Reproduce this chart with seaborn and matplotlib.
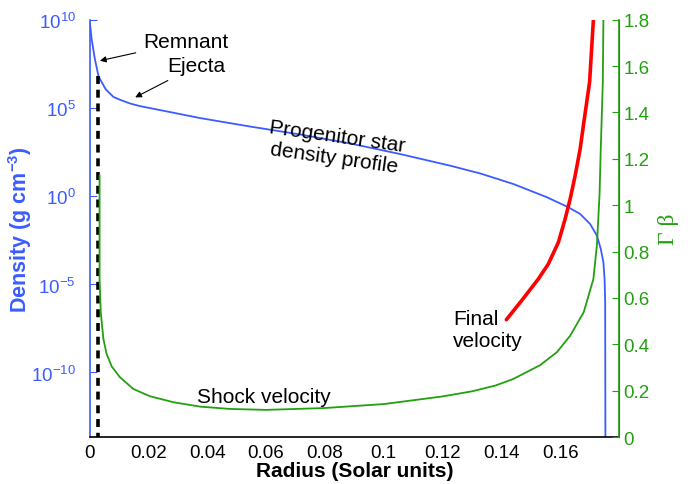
import numpy as np
import pandas as pd
import matplotlib
matplotlib.use("Agg")
import matplotlib.pyplot as plt
import seaborn as sns

# progenitor density profile (radius in solar units, log10 rho)
dens_r = [0.0, 0.0007, 0.0018, 0.0030, 0.0035, 0.0055, 0.0081, 0.0105, 0.0137,
          0.0171, 0.0262, 0.0376, 0.0546, 0.0716, 0.0886, 0.1056, 0.1226, 0.1328,
          0.1441, 0.1555, 0.1628, 0.1668, 0.1702, 0.1725, 0.1738, 0.1747, 0.1751,
          0.1753, 0.1754]
dens_log = [10.0, 8.9, 7.77, 6.82, 6.64, 6.05, 5.62, 5.45, 5.25,
            5.10, 4.80, 4.42, 3.94, 3.49, 2.98, 2.38, 1.72, 1.28,
            0.68, -0.07, -0.64, -1.02, -1.59, -2.25, -3.0, -3.76, -4.71,
            -6.0, -16.0]

# shock velocity (Gamma beta)
shock_r = [0.0034, 0.0034, 0.0038, 0.0047, 0.0058, 0.0075, 0.0103, 0.0149, 0.0205,
           0.0285, 0.0376, 0.0478, 0.06, 0.08, 0.1, 0.12, 0.13, 0.138, 0.144,
           0.1532, 0.1589, 0.1634, 0.168, 0.1713, 0.1725, 0.1734, 0.1738,
           0.1745, 0.1747]
shock_gb = [1.13, 0.68, 0.538, 0.423, 0.358, 0.305, 0.258, 0.207, 0.176,
            0.150, 0.131, 0.121, 0.117, 0.125, 0.142, 0.175, 0.197, 0.222, 0.25,
            0.31, 0.366, 0.437, 0.538, 0.682, 0.83, 1.05, 1.243,
            1.531, 1.8]

# final velocity (Gamma beta)
final_r = [0.1417, 0.147, 0.1526, 0.156, 0.1594, 0.1617, 0.1634, 0.1651, 0.1668,
           0.1679, 0.17, 0.1713]
final_gb = [0.506, 0.59, 0.682, 0.747, 0.84, 0.941, 1.027, 1.128, 1.243,
            1.344, 1.531, 1.8]

# remnant / ejecta boundary
cut_r = 0.0030
cut_log = 6.82

BLUE = "#3c5cff"
GREEN = "#22a010"
RED = "#ff0000"

sns.set_style("white")
plt.rcParams["font.family"] = ["Liberation Sans", "DejaVu Sans"]
plt.rcParams["text.color"] = "black"
plt.rcParams["mathtext.fontset"] = "custom"
plt.rcParams["mathtext.rm"] = "Liberation Sans"
plt.rcParams["mathtext.bf"] = "Liberation Sans:bold"

fig = plt.figure(figsize=(6.88, 4.85), dpi=100)
ax = fig.add_axes([0.1302, 0.0969, 0.7695, 0.8604])
ax2 = ax.twinx()

dens = pd.DataFrame({"r": dens_r, "rho": np.power(10.0, dens_log)})
sns.lineplot(data=dens, x="r", y="rho", ax=ax, color=BLUE, lw=1.3,
             estimator=None, sort=False)
ax.plot([cut_r, cut_r], [10 ** cut_log, 1e-16], color="black", lw=2.6,
        dashes=(2.2, 1.6))
ax.set_yscale("log")
ax.set_ylim(10 ** -13.67, 1e10)
ax.set_xlim(0, 0.18)

shock = pd.DataFrame({"r": shock_r, "gb": shock_gb})
final = pd.DataFrame({"r": final_r, "gb": final_gb})
sns.lineplot(data=shock, x="r", y="gb", ax=ax2, color=GREEN, lw=1.3,
             estimator=None, sort=False)
sns.lineplot(data=final, x="r", y="gb", ax=ax2, color=RED, lw=2.6,
             estimator=None, sort=False)
ax2.set_ylim(0, 1.8)
ax2.set_xlim(0, 0.18)

# axes styling
ax.set_yticks([1e-10, 1e-5, 1e0, 1e5, 1e10])
ax.set_yticklabels(["$10^{-10}$", "$10^{-5}$", "$10^{0}$", "$10^{5}$", "$10^{10}$"])
ax.minorticks_off()
ax.set_xticks([0, 0.02, 0.04, 0.06, 0.08, 0.1, 0.12, 0.14, 0.16])
ax.set_xticklabels(["0", "0.02", "0.04", "0.06", "0.08", "0.1", "0.12", "0.14", "0.16"])
ax.tick_params(axis="x", direction="in", length=5, colors="black", labelsize=13.5, pad=5)
ax.tick_params(axis="y", direction="in", length=5, colors=BLUE, labelsize=13.5, pad=10)
ax2.set_yticks(np.arange(0, 1.81, 0.2))
ax2.set_yticklabels(["0", "0.2", "0.4", "0.6", "0.8", "1", "1.2", "1.4", "1.6", "1.8"])
ax2.tick_params(axis="y", direction="in", length=5, colors=GREEN, labelsize=13.5, pad=3)

for a in (ax, ax2):
    a.spines["top"].set_visible(False)
ax.spines["left"].set_color(BLUE)
ax.spines["bottom"].set_color("black")
ax2.spines["right"].set_color(GREEN)
ax2.spines["left"].set_visible(False)
ax2.spines["bottom"].set_visible(False)
for s in ("left", "bottom"):
    ax.spines[s].set_linewidth(1.2)
ax2.spines["right"].set_linewidth(1.2)

ax.set_xlabel("Radius (Solar units)", fontsize=15, fontweight="bold",
              color="black", labelpad=0)
ax.set_ylabel("Density (g cm$^{\\mathbf{-3}}$)", fontsize=15.5, fontweight="bold",
              color=BLUE, labelpad=-2)
ax2.set_ylabel("\u0393 \u03b2", fontsize=17, color=GREEN, family="Liberation Serif",
               labelpad=6)

# annotations
ax2.annotate("Remnant", xy=(0.0035, 1.623), xytext=(0.0182, 1.705),
             fontsize=15, va="center", ha="left",
             arrowprops=dict(arrowstyle="-|>", color="black", lw=0.8,
                             mutation_scale=9, shrinkA=3, shrinkB=0))
ax2.annotate("Ejecta", xy=(0.0155, 1.465), xytext=(0.0264, 1.601),
             fontsize=15, va="center", ha="left",
             arrowprops=dict(arrowstyle="-|>", color="black", lw=0.8,
                             mutation_scale=9, shrinkA=3, shrinkB=0))
ax2.text(0.0835, 1.252, "Progenitor star\ndensity profile", fontsize=15,
         ha="center", va="center", rotation=-8, linespacing=1.2,
         rotation_mode="anchor")
ax2.text(0.0366, 0.173, "Shock velocity", fontsize=15, ha="left", va="center")
ax2.text(0.1236, 0.464, "Final\nvelocity", fontsize=15, ha="left", va="center",
         linespacing=1.2)

fig.savefig("out.png", dpi=100)
